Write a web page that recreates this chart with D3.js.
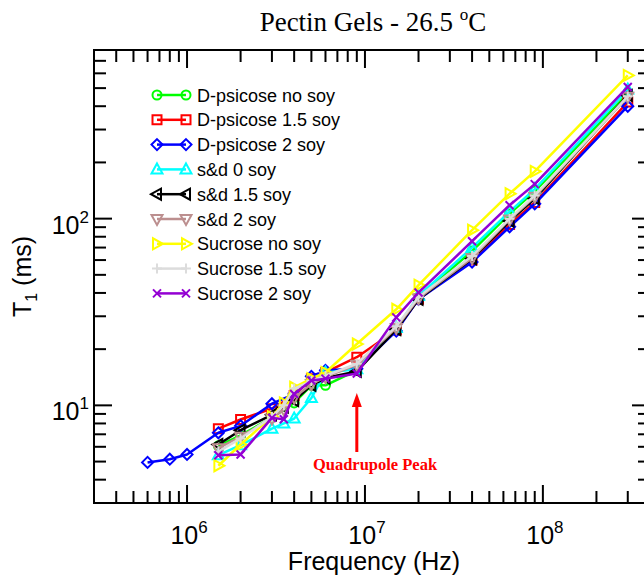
<!DOCTYPE html>
<html>
<head>
<meta charset="utf-8">
<script src="https://cdn.jsdelivr.net/npm/d3@7"></script>
<style>
  body { margin: 0; background: #fff; }
  svg { display: block; }
</style>
</head>
<body>
<svg id="chart"></svg>
<script>
var width = 644, height = 575;

// frequencies (Hz)
var freqBlue = [6e5, 8e5, 1e6, 1.5e6, 2e6, 3e6, 4e6, 5e6, 6e6, 9e6, 1.5e7, 2e7, 4e7, 6.5e7, 9e7, 3e8];
var freqPsicose = [1.5e6, 2e6, 3e6, 4e6, 5e6, 6e6, 9e6, 1.5e7, 2e7, 4e7, 6.5e7, 9e7, 3e8];
var freqOther = [1.5e6, 2e6, 3e6, 3.5e6, 4e6, 5e6, 6e6, 9e6, 1.5e7, 2e7, 4e7, 6.5e7, 9e7, 3e8];

// T1 values (ms)
var psicoseNoSoy  = [6.07, 6.9, 8.6, 10.3, 12.8, 12.8, 15.4, 25.5, 38, 67, 106, 140, 468];
var psicose15Soy  = [7.5, 8.4, 9.6, 11.3, 13.9, 15.0, 18.1, 25.3, 37, 60, 93, 122, 421];
var psicose2Soy   = [4.95, 5.15, 5.46, 7.13, 7.77, 10.2, 11.5, 14.3, 15.4, 15.7, 25, 37, 58.5, 90.4, 120, 400];
var sd0Soy        = [5.41, 6.12, 7.5, 8.0, 8.5, 10.95, 15.0, 15.6, 26, 38.5, 70, 109, 144, 491];
var sd15Soy       = [6.17, 7.36, 8.9, 9.8, 10.6, 12.8, 14.0, 15.2, 25.5, 37, 61, 97, 128, 457];
var sd2Soy        = [5.9, 6.8, 8.5, 9.5, 11.0, 13.0, 14.2, 16.5, 26, 37.5, 61.6, 99, 131, 449];
var sucroseNoSoy  = [4.75, 6.17, 8.7, 10.3, 12.5, 13.9, 15.0, 21.3, 32.7, 44, 86.7, 136, 179, 585];
var sucrose15Soy  = [5.65, 6.65, 8.7, 10.0, 12.3, 13.5, 14.4, 16.7, 26.5, 38, 63, 100, 133, 452];
var sucrose2Soy   = [5.41, 5.46, 8.57, 8.43, 11.5, 13.6, 13.9, 14.8, 29.6, 40.2, 75.7, 118, 153, 507];

var seriesNames = ["D-psicose no soy", "D-psicose 1.5 soy", "D-psicose 2 soy", "s&d 0 soy",
                   "s&d 1.5 soy", "s&d 2 soy", "Sucrose no soy", "Sucrose 1.5 soy", "Sucrose 2 soy"];
var seriesColors = ["#00ff00", "#ff0000", "#0000ff", "#00ffff", "#000000", "#bc8f8f", "#ffff00", "#dcdcdc", "#9400d3"];
var seriesShapes = ["circle", "square", "diamond", "triUp", "triLeft", "triDown", "triRight", "plus", "cross"];
var seriesFreqs = [freqPsicose, freqPsicose, freqBlue, freqOther, freqOther, freqOther, freqOther, freqOther, freqOther];
var seriesValues = [psicoseNoSoy, psicose15Soy, psicose2Soy, sd0Soy, sd15Soy, sd2Soy, sucroseNoSoy, sucrose15Soy, sucrose2Soy];

var xMajor = [1e6, 1e7, 1e8];
var xExp = ["6", "7", "8"];
var yMajor = [10, 100];
var yExp = ["1", "2"];

var margin = {left: 94, top: 50, right: 650, bottom: 503};

var x = d3.scaleLog().domain([3e5, 4e8]).range([margin.left, margin.right]);
var y = d3.scaleLog().domain([3, 800]).range([margin.bottom, margin.top]);

var svg = d3.select("#chart")
    .attr("width", width)
    .attr("height", height);

// frame
svg.append("rect")
    .attr("x", margin.left)
    .attr("y", margin.top)
    .attr("width", margin.right - margin.left)
    .attr("height", margin.bottom - margin.top)
    .attr("fill", "none")
    .attr("stroke", "#000")
    .attr("stroke-width", 2);

// ticks (inward, all four sides)
function isMajor(v) {
    var l = Math.log10(v);
    return Math.abs(l - Math.round(l)) < 1e-9;
}
var xTicks = x.ticks();
var yTicks = y.ticks();

var tickG = svg.append("g").attr("stroke", "#000").attr("stroke-width", 2);
xTicks.forEach(function(t) {
    var len = isMajor(t) ? 18 : 12;
    var px = x(t);
    if (px < margin.left + 1 || px > margin.right - 1) return;
    tickG.append("line").attr("x1", px).attr("x2", px).attr("y1", margin.bottom).attr("y2", margin.bottom - len);
    tickG.append("line").attr("x1", px).attr("x2", px).attr("y1", margin.top).attr("y2", margin.top + len);
});
yTicks.forEach(function(t) {
    var len = isMajor(t) ? 18 : 12;
    var py = y(t);
    if (py < margin.top + 1 || py > margin.bottom - 1) return;
    tickG.append("line").attr("y1", py).attr("y2", py).attr("x1", margin.left).attr("x2", margin.left + len);
    tickG.append("line").attr("y1", py).attr("y2", py).attr("x1", margin.right).attr("x2", margin.right - len);
});

var sans = "'Liberation Sans', Arial, sans-serif";
var serif = "'Liberation Serif', 'Times New Roman', serif";

// x tick labels
xMajor.forEach(function(t, i) {
    var txt = svg.append("text")
        .attr("x", x(t) + 2)
        .attr("y", 544)
        .attr("text-anchor", "middle")
        .attr("font-family", sans)
        .attr("font-size", 25)
        .attr("fill", "#000");
    txt.append("tspan").text("10");
    txt.append("tspan").attr("dy", -11).attr("font-size", 17).text(xExp[i]);
});

// y tick labels
yMajor.forEach(function(t, i) {
    var txt = svg.append("text")
        .attr("x", 89)
        .attr("y", y(t) + 15)
        .attr("text-anchor", "end")
        .attr("font-family", sans)
        .attr("font-size", 25)
        .attr("fill", "#000");
    txt.append("tspan").text("10");
    txt.append("tspan").attr("dy", -11).attr("font-size", 17).text(yExp[i]);
});

// axis titles
svg.append("text")
    .attr("x", (margin.left + margin.right) / 2 + 2)
    .attr("y", 570)
    .attr("text-anchor", "middle")
    .attr("font-family", sans)
    .attr("font-size", 25)
    .text("Frequency (Hz)");

var yt = svg.append("text")
    .attr("transform", "translate(31," + ((margin.top + margin.bottom) / 2) + ") rotate(-90)")
    .attr("text-anchor", "middle")
    .attr("font-family", sans)
    .attr("font-size", 25);
yt.append("tspan").text("T");
yt.append("tspan").attr("dy", 6).attr("font-size", 16).text("1");
yt.append("tspan").attr("dy", -6).text(" (ms)");

// title
var title = svg.append("text")
    .attr("x", 373)
    .attr("y", 31)
    .attr("text-anchor", "middle")
    .attr("font-family", serif)
    .attr("font-size", 27);
title.append("tspan").text("Pectin Gels - 26.5 ");
title.append("tspan").attr("dy", -11).attr("font-size", 17).text("o");
title.append("tspan").attr("dy", 11).text("C");

// marker shapes
function markerPath(shape) {
    switch (shape) {
        case "circle": return "M4.5,0A4.5,4.5 0 1,1 -4.5,0A4.5,4.5 0 1,1 4.5,0Z";
        case "square": return "M-4.5,-4.5L4.5,-4.5L4.5,4.5L-4.5,4.5Z";
        case "diamond": return "M0,-5.5L5.5,0L0,5.5L-5.5,0Z";
        case "triUp": return "M0,-6L5.5,4L-5.5,4Z";
        case "triDown": return "M0,6L5.5,-4L-5.5,-4Z";
        case "triLeft": return "M-6,0L4,-5.5L4,5.5Z";
        case "triRight": return "M6,0L-4,-5.5L-4,5.5Z";
        case "plus": return "M-5,0L5,0M0,-5L0,5";
        case "cross": return "M-4,-4L4,4M-4,4L4,-4";
    }
}

var line = d3.line()
    .x(function(d) { return x(d[0]); })
    .y(function(d) { return y(d[1]); });

seriesNames.forEach(function(name, i) {
    var pts = seriesFreqs[i].map(function(f, j) { return [f, seriesValues[i][j]]; });
    var g = svg.append("g");
    g.append("path")
        .attr("d", line(pts))
        .attr("fill", "none")
        .attr("stroke", seriesColors[i])
        .attr("stroke-width", 2.5)
        .attr("stroke-linejoin", "round");
    g.selectAll("path.m")
        .data(pts)
        .enter().append("path")
        .attr("class", "m")
        .attr("transform", function(d) { return "translate(" + x(d[0]) + "," + y(d[1]) + ")"; })
        .attr("d", markerPath(seriesShapes[i]))
        .attr("fill", "none")
        .attr("stroke", seriesColors[i])
        .attr("stroke-width", 2);
});

// legend
var legend = svg.append("g");
seriesNames.forEach(function(name, i) {
    var ly = 95 + i * 24.8;
    var lg = legend.append("g");
    lg.append("line")
        .attr("x1", 157).attr("x2", 186)
        .attr("y1", ly).attr("y2", ly)
        .attr("stroke", seriesColors[i])
        .attr("stroke-width", 2.5);
    [157, 186].forEach(function(mx) {
        lg.append("path")
            .attr("transform", "translate(" + mx + "," + ly + ")")
            .attr("d", markerPath(seriesShapes[i]))
            .attr("fill", "none")
            .attr("stroke", seriesColors[i])
            .attr("stroke-width", 2);
    });
    lg.append("text")
        .attr("x", 197)
        .attr("y", ly + 6.5)
        .attr("font-family", sans)
        .attr("font-size", 18)
        .attr("fill", "#000")
        .text(name);
});

// quadrupole peak annotation
var ax = x(9e6);
svg.append("line")
    .attr("x1", ax).attr("x2", ax)
    .attr("y1", 452).attr("y2", 405)
    .attr("stroke", "#ff0000")
    .attr("stroke-width", 3);
svg.append("path")
    .attr("d", "M" + ax + ",393L" + (ax - 5) + ",407L" + (ax + 5) + ",407Z")
    .attr("fill", "#ff0000");
svg.append("text")
    .attr("x", 375)
    .attr("y", 470)
    .attr("text-anchor", "middle")
    .attr("font-family", serif)
    .attr("font-weight", "bold")
    .attr("font-size", 16.5)
    .attr("fill", "#ff0000")
    .text("Quadrupole Peak");
</script>
</body>
</html>
